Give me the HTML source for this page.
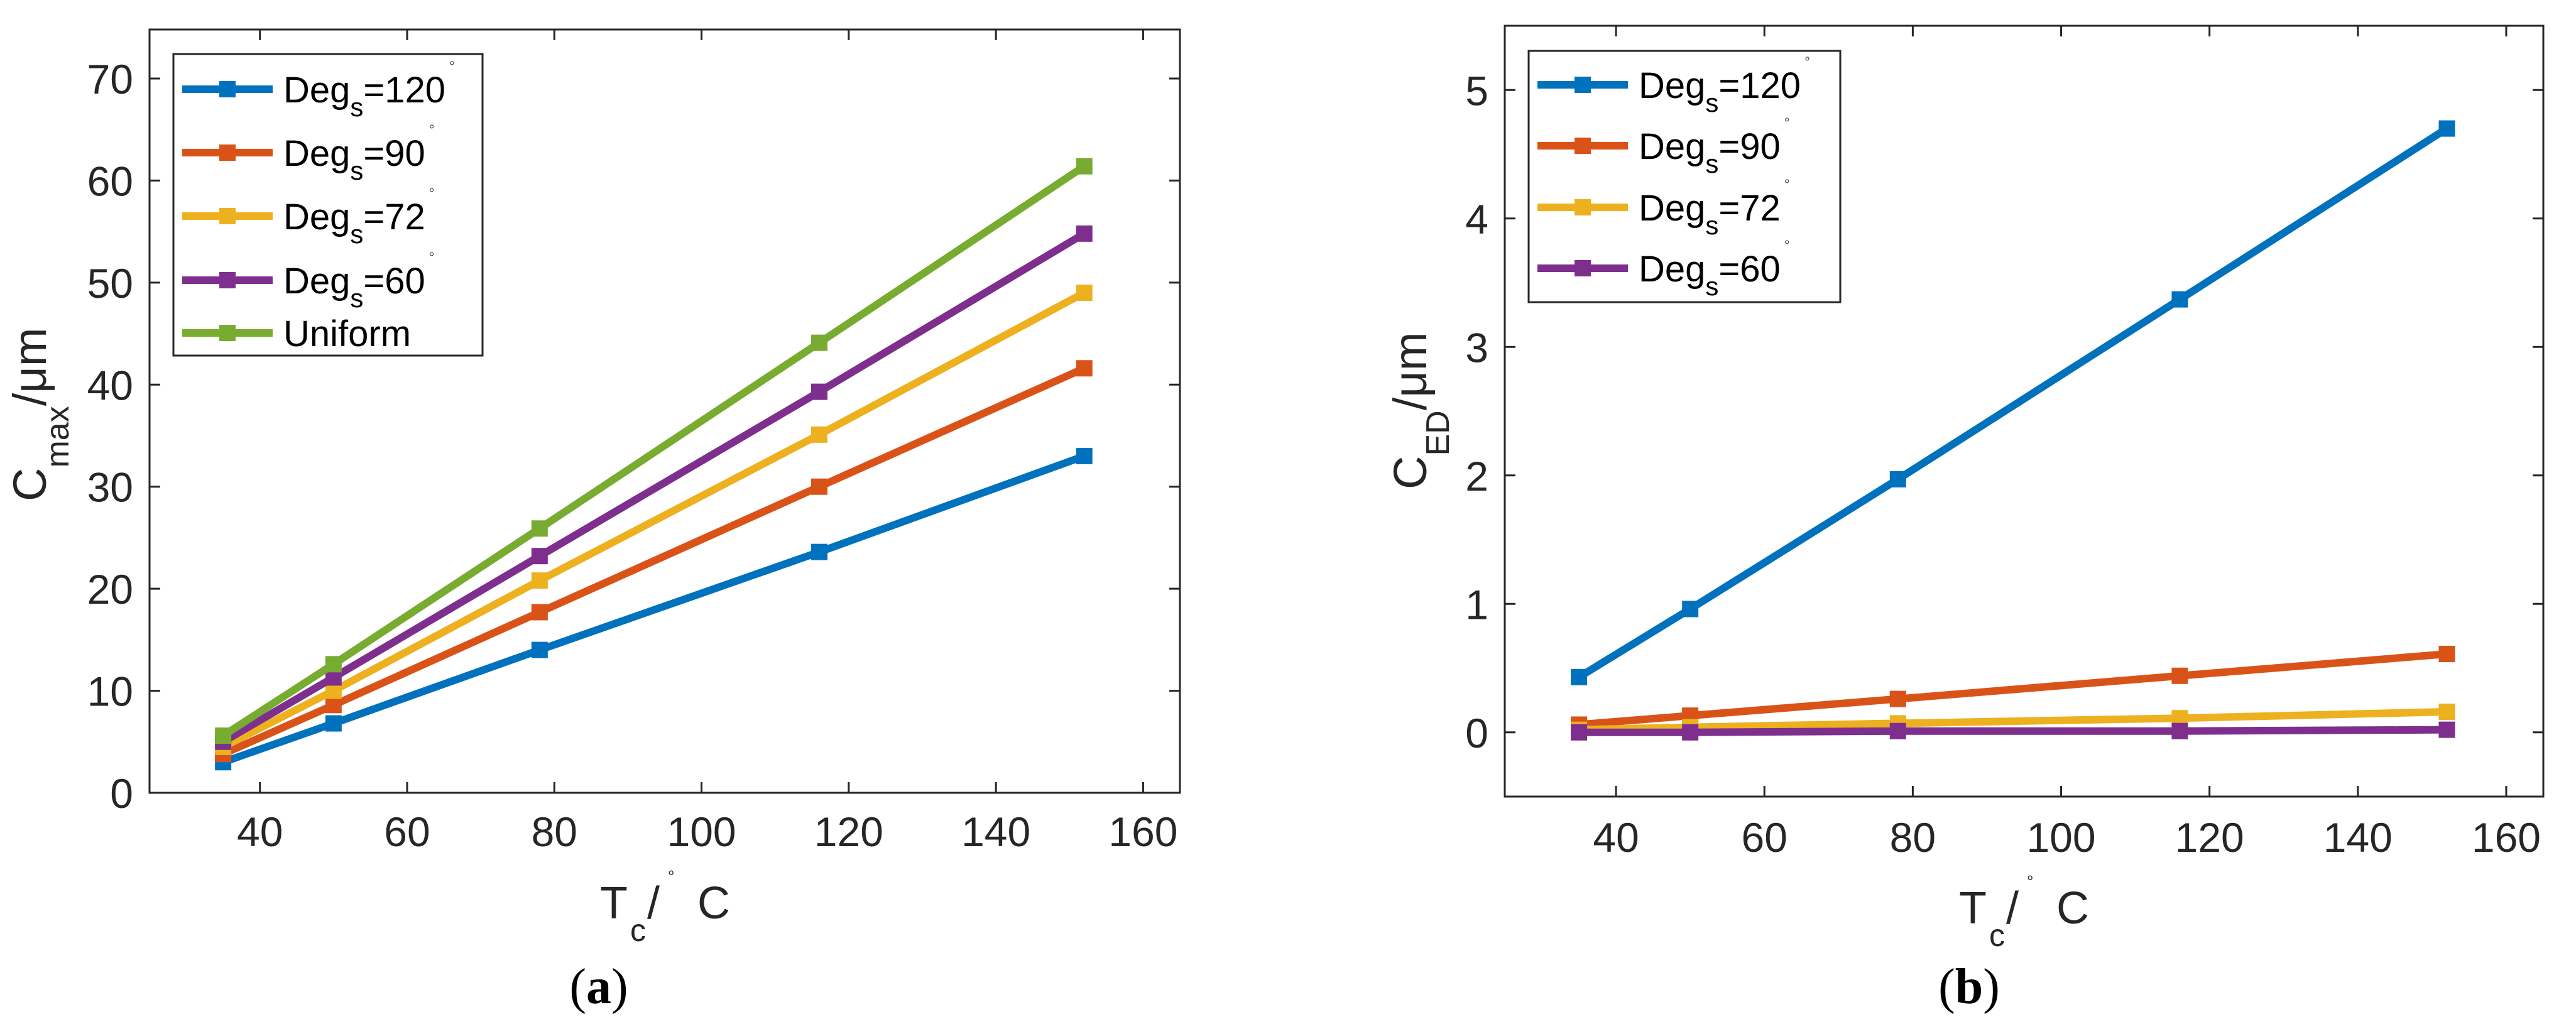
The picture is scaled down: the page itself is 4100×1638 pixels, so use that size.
<!DOCTYPE html>
<html><head><meta charset="utf-8">
<style>
html,body{margin:0;padding:0;background:#fff;}
svg{display:block;}
text{font-family:"Liberation Sans",sans-serif;}
</style></head>
<body>
<svg id="fig" width="4100" height="1638" viewBox="0 0 4100 1638" xmlns="http://www.w3.org/2000/svg">
<rect width="4100" height="1638" fill="#fff"/>
<g id="pa"></g>
<g id="pb"></g>
<text x="953" y="1597" text-anchor="middle" style="font-family:'Liberation Serif',serif;font-size:80px">(<tspan font-weight="bold">a</tspan>)</text>
<text x="3134" y="1597" text-anchor="middle" style="font-family:'Liberation Serif',serif;font-size:80px">(<tspan font-weight="bold">b</tspan>)</text>
</svg>
<script>
const xTemps = [35, 50, 78, 116, 152];
const xTicks = [40, 60, 80, 100, 120, 140, 160];
const legendLabelsA = ["120", "90", "72", "60", "Uniform"];
const cmaxDeg120 = [3.0, 6.8, 14.0, 23.6, 33.0];
const cmaxDeg90 = [3.8, 8.6, 17.7, 30.0, 41.6];
const cmaxDeg72 = [4.5, 10.0, 20.8, 35.1, 49.0];
const cmaxDeg60 = [5.0, 11.3, 23.2, 39.3, 54.8];
const cmaxUniform = [5.6, 12.6, 25.9, 44.1, 61.4];
const yTicksA = [0, 10, 20, 30, 40, 50, 60, 70];
const cedDeg120 = [0.43, 0.96, 1.97, 3.37, 4.70];
const cedDeg90 = [0.06, 0.13, 0.26, 0.44, 0.61];
const cedDeg72 = [0.02, 0.04, 0.07, 0.11, 0.16];
const cedDeg60 = [0.00, 0.00, 0.01, 0.01, 0.02];
const yTicksB = [0, 1, 2, 3, 4, 5];

const COLORS = ["#0072BD", "#D95319", "#EDB120", "#7E2F8E", "#77AC30"];
const NS = "http://www.w3.org/2000/svg";
function mk(parent, tag, attrs) {
  const e = document.createElementNS(NS, tag);
  for (const k in attrs) e.setAttribute(k, attrs[k]);
  parent.appendChild(e);
  return e;
}

function drawPlot(g, cfg) {
  const L = cfg.left, R = cfg.right, T = cfg.top, B = cfg.bottom;
  const sx = v => L + (v - cfg.xmin) / (cfg.xmax - cfg.xmin) * (R - L);
  const sy = v => B - (v - cfg.ymin) / (cfg.ymax - cfg.ymin) * (B - T);
  const ax = "#262626";
  // ticks
  cfg.xTicks.forEach(t => {
    const x = sx(t);
    const tk = mk(g, "path", {d: `M${x},${B}V${B-17}M${x},${T}V${T+17}`, stroke: ax, "stroke-width": 3, fill: "none"});
    
    
    const lb = mk(g, "text", {x: x, y: B + cfg.xLabelOff, "text-anchor": "middle", "font-size": 66, fill: ax});
    
    
    lb.textContent = t;
  });
  cfg.yTicks.forEach(t => {
    const y = sy(t);
    const tk = mk(g, "path", {d: `M${L},${y}H${L+17}M${R},${y}H${R-17}`, stroke: ax, "stroke-width": 3, fill: "none"});
    
    
    const lb = mk(g, "text", {x: L - 26, y: y + 24, "text-anchor": "end", "font-size": 66, fill: ax});
    
    
    lb.textContent = t;
  });
  const box = mk(g, "rect", {x: L, y: T, width: R - L, height: B - T, fill: "none", stroke: ax, "stroke-width": 3});
  
  
  // series
  cfg.series.forEach((s, i) => {
    const pts = xTemps.map((xv, j) => [sx(xv), sy(s[j])]);
    const ln = mk(g, "polyline", {points: pts.map(p => p.join(",")).join(" "), fill: "none", stroke: COLORS[i], "stroke-width": 12, "stroke-linejoin": "miter"});
    
    
    pts.forEach(p => {
      const m = mk(g, "rect", {x: p[0] - 13, y: p[1] - 13, width: 26, height: 26, fill: COLORS[i]});
      
      
    });
  });
  // legend
  const lg = mk(g, "g", {});
  
  
  const lb = mk(lg, "rect", {x: cfg.legend.x, y: cfg.legend.y, width: cfg.legend.w, height: cfg.legend.h, fill: "#fff", stroke: ax, "stroke-width": 3});
  
  
  cfg.legend.rows.forEach((ry, i) => {
    const x0 = cfg.legend.x + 14;
    const e = mk(lg, "g", {});
    
    
    mk(e, "line", {x1: x0, y1: ry, x2: x0 + 144, y2: ry, stroke: COLORS[i], "stroke-width": 12});
    mk(e, "rect", {x: x0 + 72 - 13, y: ry - 13, width: 26, height: 26, fill: COLORS[i]});
    const t = mk(e, "text", {x: x0 + 161, y: ry + 21, "font-size": 58, fill: "#000"});
    const lab = cfg.labels[i];
    if (lab === "Uniform") { t.textContent = "Uniform"; }
    else {
      t.appendChild(document.createTextNode("Deg"));
      mk(t, "tspan", {"font-size": 42, dy: 22}).textContent = "s";
      mk(t, "tspan", {dy: -22}).textContent = "=" + lab;
      mk(t, "tspan", {"font-size": 22, dx: 6, dy: -50, fill: "#444"}).textContent = "°";
    }
  });
  // x title
  const xt = cfg.xTitle;
  const xg = mk(g, "g", {});
  
  
  mk(xg, "text", {x: xt.x, y: xt.y, "font-size": 72, fill: ax}).textContent = "T";
  mk(xg, "text", {x: xt.x + 48, y: xt.y + 36, "font-size": 50, fill: ax}).textContent = "c";
  mk(xg, "text", {x: xt.x + 75, y: xt.y, "font-size": 72, fill: ax}).textContent = "/";
  mk(xg, "text", {x: xt.x + 108, y: xt.y - 58, "font-size": 26, fill: ax}).textContent = "°";
  mk(xg, "text", {x: xt.x + 155, y: xt.y, "font-size": 72, fill: ax}).textContent = "C";
  // y title
  const yt = cfg.yTitle;
  const ytx = mk(g, "text", {transform: `translate(${yt.x},${yt.y}) rotate(-90)`, x: 0, y: 0, "font-size": 74, fill: ax});
  
  
  ytx.appendChild(document.createTextNode("C"));
  mk(ytx, "tspan", {"font-size": 52, dy: 36}).textContent = yt.sub;
  mk(ytx, "tspan", {dy: -36}).textContent = "/μm";
}

drawPlot(document.getElementById("pa"), {
  left: 238, right: 1878, top: 47, bottom: 1262, xmin: 25, xmax: 165, ymin: 0, ymax: 74.8,
  xTicks: xTicks, yTicks: yTicksA, xLabelOff: 85,
  series: [cmaxDeg120, cmaxDeg90, cmaxDeg72, cmaxDeg60, cmaxUniform],
  names: ["deg120", "deg90", "deg72", "deg60", "uniform"],
  labels: legendLabelsA,
  legend: {x: 276, y: 86, w: 492, h: 480, rows: [142, 243, 344, 446, 530]},
  xTitle: {x: 955, y: 1462},
  yTitle: {x: 73, y: 798, sub: "max"}
});
drawPlot(document.getElementById("pb"), {
  left: 2395, right: 4048, top: 41, bottom: 1268, xmin: 25, xmax: 165, ymin: -0.5, ymax: 5.5,
  xTicks: xTicks, yTicks: yTicksB, xLabelOff: 88,
  series: [cedDeg120, cedDeg90, cedDeg72, cedDeg60],
  names: ["deg120", "deg90", "deg72", "deg60"],
  labels: legendLabelsA.slice(0, 4),
  legend: {x: 2433, y: 81, w: 496, h: 400, rows: [135, 232, 330, 427]},
  xTitle: {x: 3118, y: 1470},
  yTitle: {x: 2270, y: 779, sub: "ED"}
});
</script>
</body></html>
